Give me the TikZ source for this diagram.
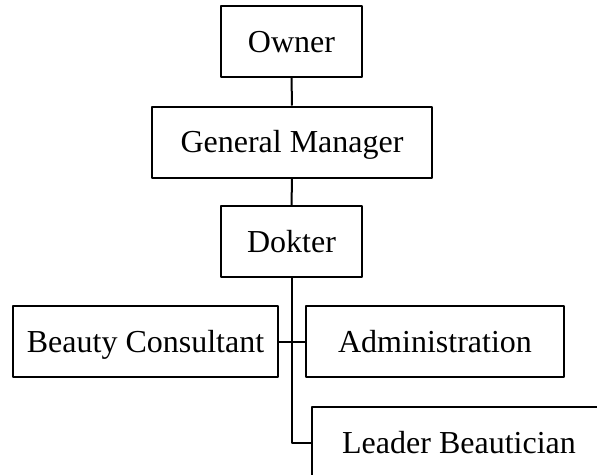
\documentclass[tikz,border=0pt]{standalone}
\usepackage{fontspec}
\setmainfont{Liberation Serif}
\begin{document}
\begin{tikzpicture}[x=1pt,y=-1pt,line join=round,font=\fontsize{32}{38}\selectfont]
	\tikzset{box/.style={draw,line width=2pt,minimum height=71pt,inner sep=0pt,text height=24pt,text depth=3pt}}
	\useasboundingbox (0,0) rectangle (597,474);
	\node[box,minimum width=141pt] (owner) at (291.5,41.5) {Owner};
	\node[box,minimum width=280pt] (gm) at (292,142) {General Manager};
	\node[box,minimum width=141pt] (dokter) at (291.5,241.5) {Dokter};
	\node[box,minimum width=265pt] (bc) at (145.5,341.5) {Beauty Consultant};
	\node[box,minimum width=258pt] (adm) at (435,341.5) {Administration};
	\node[box,minimum width=294pt] (leader) at (459,442.5) {Leader Beautician};
	\draw[line width=2pt] (owner)--(gm);
	\draw[line width=2pt] (gm)--(dokter);
	\draw[line width=2pt] (bc)--(adm);
	\draw[line width=2pt] (dokter.south) |- (leader.west);
\end{tikzpicture}
\end{document}
